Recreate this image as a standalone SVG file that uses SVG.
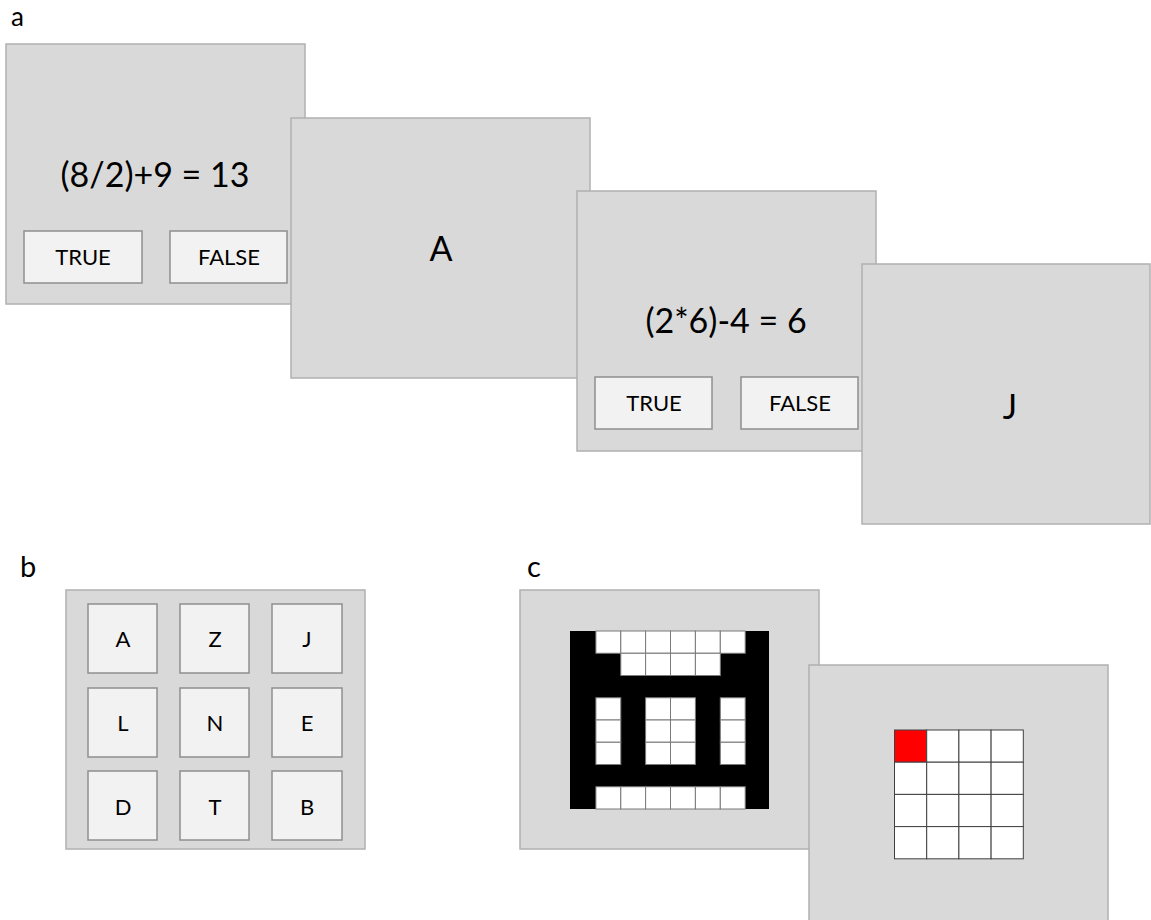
<svg xmlns="http://www.w3.org/2000/svg" width="1151" height="920" viewBox="0 0 1151 920">
<style>
.panel{fill:#d9d9d9;stroke:#b0b0b0;stroke-width:1.5}
.btn{fill:#f2f2f2;stroke:#8f8f8f;stroke-width:1.5}
.t{font-family:Lato,"Noto Sans",sans-serif;fill:#000;text-anchor:middle}
.big{font-size:34px}
.sm{font-size:22px}
.lab{font-family:Lato,"Noto Sans",sans-serif;font-size:29px;fill:#000}
.w{fill:#fff;stroke:#7a7a7a;stroke-width:1}
.g{fill:#fff;stroke:#404040;stroke-width:1}
</style>
<rect width="1151" height="920" fill="#fff"/>
<text x="11" y="26" style="font-family:Lato,'Noto Sans',sans-serif;font-size:26px;fill:#000">a</text>
<text class="lab" x="20" y="577">b</text>
<text class="lab" x="527" y="577">c</text>

<g id="panel-a1">
<rect class="panel" x="6" y="44" width="299" height="260"/>
<text class="t big" x="155" y="187">(8/2)+9 = 13</text>
<rect class="btn" x="24" y="231" width="118" height="52"/>
<text class="t sm" x="83" y="265">TRUE</text>
<rect class="btn" x="170" y="231" width="117" height="52"/>
<text class="t sm" x="229" y="265">FALSE</text>
</g>
<g id="panel-a2">
<rect class="panel" x="291" y="118" width="299" height="260"/>
<text class="t big" x="441" y="261">A</text>
</g>
<g id="panel-a3">
<rect class="panel" x="577" y="191" width="299" height="260"/>
<text class="t big" x="726" y="333">(2*6)-4 = 6</text>
<rect class="btn" x="595" y="377" width="117" height="52"/>
<text class="t sm" x="654" y="411">TRUE</text>
<rect class="btn" x="741" y="377" width="117" height="52"/>
<text class="t sm" x="800" y="411">FALSE</text>
</g>
<g id="panel-a4">
<rect class="panel" x="862" y="264" width="288" height="260"/>
<text class="t big" x="1010" y="419">J</text>
</g>

<g id="panel-b">
<rect class="panel" x="66" y="590" width="299" height="259"/>
<g id="b-A"><rect class="btn" x="88" y="604" width="69" height="69"/><text class="t sm" x="123" y="647">A</text></g>
<g id="b-Z"><rect class="btn" x="180" y="604" width="69" height="69"/><text class="t sm" x="215" y="647">Z</text></g>
<g id="b-J"><rect class="btn" x="272" y="604" width="70" height="69"/><text class="t sm" x="307" y="647">J</text></g>
<g id="b-L"><rect class="btn" x="88" y="688" width="69" height="69"/><text class="t sm" x="123" y="731">L</text></g>
<g id="b-N"><rect class="btn" x="180" y="688" width="69" height="69"/><text class="t sm" x="215" y="731">N</text></g>
<g id="b-E"><rect class="btn" x="272" y="688" width="70" height="69"/><text class="t sm" x="307" y="731">E</text></g>
<g id="b-D"><rect class="btn" x="88" y="771" width="69" height="69"/><text class="t sm" x="123" y="815">D</text></g>
<g id="b-T"><rect class="btn" x="180" y="771" width="69" height="69"/><text class="t sm" x="215" y="815">T</text></g>
<g id="b-B"><rect class="btn" x="272" y="771" width="70" height="69"/><text class="t sm" x="307" y="815">B</text></g>
</g>

<g id="panel-c1">
<rect class="panel" x="520" y="590" width="299" height="259"/>
<rect x="570" y="631" width="199" height="178" fill="#000"/>
<rect class="w" x="595.9" y="631" width="24.9" height="22.25"/>
<rect class="w" x="620.8" y="631" width="24.9" height="22.25"/>
<rect class="w" x="645.6" y="631" width="24.9" height="22.25"/>
<rect class="w" x="670.5" y="631" width="24.9" height="22.25"/>
<rect class="w" x="695.4" y="631" width="24.9" height="22.25"/>
<rect class="w" x="720.3" y="631" width="24.9" height="22.25"/>
<rect class="w" x="620.8" y="653.25" width="24.9" height="22.25"/>
<rect class="w" x="645.6" y="653.25" width="24.9" height="22.25"/>
<rect class="w" x="670.5" y="653.25" width="24.9" height="22.25"/>
<rect class="w" x="695.4" y="653.25" width="24.9" height="22.25"/>
<rect class="w" x="595.9" y="697.75" width="24.9" height="22.25"/>
<rect class="w" x="645.6" y="697.75" width="24.9" height="22.25"/>
<rect class="w" x="670.5" y="697.75" width="24.9" height="22.25"/>
<rect class="w" x="720.3" y="697.75" width="24.9" height="22.25"/>
<rect class="w" x="595.9" y="720" width="24.9" height="22.25"/>
<rect class="w" x="645.6" y="720" width="24.9" height="22.25"/>
<rect class="w" x="670.5" y="720" width="24.9" height="22.25"/>
<rect class="w" x="720.3" y="720" width="24.9" height="22.25"/>
<rect class="w" x="595.9" y="742.25" width="24.9" height="22.25"/>
<rect class="w" x="645.6" y="742.25" width="24.9" height="22.25"/>
<rect class="w" x="670.5" y="742.25" width="24.9" height="22.25"/>
<rect class="w" x="720.3" y="742.25" width="24.9" height="22.25"/>
<rect class="w" x="595.9" y="786.75" width="24.9" height="22.25"/>
<rect class="w" x="620.8" y="786.75" width="24.9" height="22.25"/>
<rect class="w" x="645.6" y="786.75" width="24.9" height="22.25"/>
<rect class="w" x="670.5" y="786.75" width="24.9" height="22.25"/>
<rect class="w" x="695.4" y="786.75" width="24.9" height="22.25"/>
<rect class="w" x="720.3" y="786.75" width="24.9" height="22.25"/>
</g>

<g id="panel-c2">
<rect class="panel" x="809" y="665" width="299" height="260"/>
<rect x="894.5" y="730" width="32.2" height="32.2" fill="#ff0000" stroke="#404040" stroke-width="1"/>
<rect class="g" x="926.7" y="730" width="32.2" height="32.2"/>
<rect class="g" x="958.9" y="730" width="32.2" height="32.2"/>
<rect class="g" x="991.1" y="730" width="32.2" height="32.2"/>
<rect class="g" x="894.5" y="762.2" width="32.2" height="32.2"/>
<rect class="g" x="926.7" y="762.2" width="32.2" height="32.2"/>
<rect class="g" x="958.9" y="762.2" width="32.2" height="32.2"/>
<rect class="g" x="991.1" y="762.2" width="32.2" height="32.2"/>
<rect class="g" x="894.5" y="794.4" width="32.2" height="32.2"/>
<rect class="g" x="926.7" y="794.4" width="32.2" height="32.2"/>
<rect class="g" x="958.9" y="794.4" width="32.2" height="32.2"/>
<rect class="g" x="991.1" y="794.4" width="32.2" height="32.2"/>
<rect class="g" x="894.5" y="826.6" width="32.2" height="32.2"/>
<rect class="g" x="926.7" y="826.6" width="32.2" height="32.2"/>
<rect class="g" x="958.9" y="826.6" width="32.2" height="32.2"/>
<rect class="g" x="991.1" y="826.6" width="32.2" height="32.2"/>
</g>
</svg>
